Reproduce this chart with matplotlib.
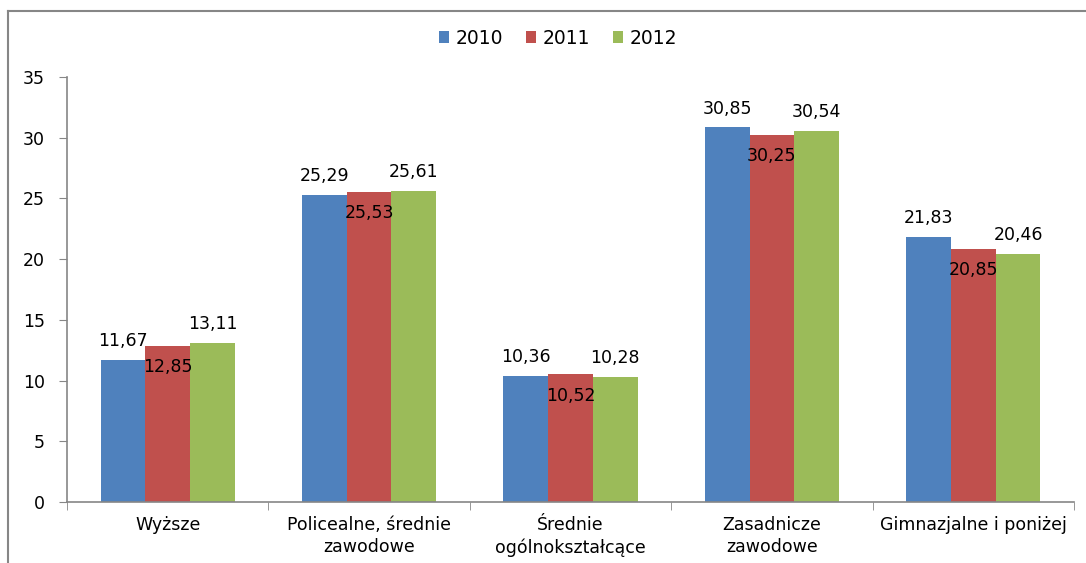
import matplotlib.pyplot as plt
from matplotlib.lines import Line2D
import numpy as np

categories = ["Wyższe", "Policealne, średnie\nzawodowe", "Średnie\nogólnokształcące",
              "Zasadnicze\nzawodowe", "Gimnazjalne i poniżej"]
years = ["2010", "2011", "2012"]
v2010 = [11.67, 25.29, 10.36, 30.85, 21.83]
v2011 = [12.85, 25.53, 10.52, 30.25, 20.85]
v2012 = [13.11, 25.61, 10.28, 30.54, 20.46]
colors = ["#4F81BD", "#C0504D", "#9BBB59"]

plt.rcParams['font.family'] = ['DejaVu Sans']

fig = plt.figure(figsize=(10.86, 5.63), dpi=100)
ax = fig.add_axes([67/1086, 1-502/563, (1074-67)/1086, (502-77)/563])

x = np.arange(len(categories))
w = 1/4.5
series = [v2010, v2011, v2012]
for i, vals in enumerate(series):
    pos = x + (i-1)*w
    ax.bar(pos, vals, width=w, color=colors[i], label=years[i], zorder=2)
    for p, v in zip(pos, vals):
        txt = ("%.2f" % v).replace(".", ",")
        if i == 1:
            ax.annotate(txt, (p, v), xytext=(0, -9), textcoords="offset points",
                        ha="center", va="top", fontsize=12.5)
        else:
            ax.annotate(txt, (p, v), xytext=(0, 10), textcoords="offset points",
                        ha="center", va="baseline", fontsize=12.5)

ax.set_xlim(-0.5, len(categories)-0.5)
ax.set_ylim(0, 35)
ax.set_yticks(range(0, 36, 5))
ax.set_xticks(x)
ax.set_xticklabels(categories, fontsize=12.5, linespacing=1.3)
ax.set_xticks(np.arange(-0.5, len(categories), 1), minor=True)
ax.tick_params(axis="x", which="major", length=0, pad=10)
ax.tick_params(axis="x", which="minor", length=6, color="#868686")
ax.tick_params(axis="y", length=6, color="#868686", labelsize=12.5, pad=10)

for s in ["top", "right"]:
    ax.spines[s].set_visible(False)
for s in ["left", "bottom"]:
    ax.spines[s].set_color("#868686")
    ax.spines[s].set_linewidth(1.2)

fig.legend(loc="center", bbox_to_anchor=(558/1086, 1-38/563), ncol=3, frameon=False,
           fontsize=13.5, handlelength=0.55, handleheight=0.55, handletextpad=0.35,
           columnspacing=1.2)

# outer chart border
fig.add_artist(Line2D([8/1086, 8/1086], [0, 1-11/563], color="#868686", lw=1.5))
fig.add_artist(Line2D([8/1086, 1], [1-11/563, 1-11/563], color="#868686", lw=1.5))

fig.savefig("out.png", dpi=100)
